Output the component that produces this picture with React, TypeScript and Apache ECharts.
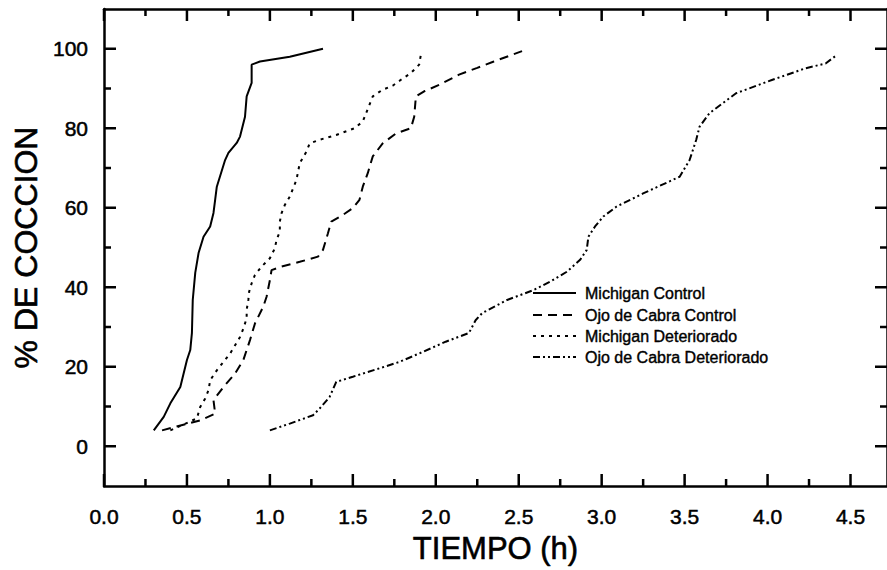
import React, { useEffect, useRef } from "react";
import * as echarts from "echarts";

const seriesNames = [
  "Michigan Control",
  "Ojo de Cabra Control",
  "Michigan Deteriorado",
  "Ojo de Cabra Deteriorado",
];

const michiganControl: [number, number][] = [
  [0.3, 4], [0.36, 7.4], [0.4, 10.8], [0.46, 14.9], [0.5, 21.7], [0.52, 24.2],
  [0.53, 28.5], [0.535, 36.8], [0.55, 43.6], [0.57, 48.6], [0.6, 52.7], [0.64, 55.3],
  [0.66, 58.7], [0.67, 62], [0.68, 65.3], [0.73, 72], [0.75, 73.8], [0.8, 76.3],
  [0.82, 77.9], [0.85, 82.9], [0.86, 88], [0.89, 91.4], [0.89, 96], [0.94, 96.8],
  [1.12, 98], [1.32, 100],
];

const ojoControl: [number, number][] = [
  [0.35, 4], [0.58, 6.5], [0.67, 8.2], [0.66, 11.6], [0.72, 14.9], [0.79, 18.3],
  [0.84, 21.7], [0.88, 26.7], [0.91, 30.9], [0.96, 35.1], [0.98, 37.6], [1.0, 41.8],
  [1.01, 44.3], [1.07, 45.2], [1.18, 46.4], [1.29, 47.7], [1.32, 49.4], [1.35, 53.6],
  [1.37, 56.5], [1.44, 58.2], [1.5, 59.9], [1.54, 62], [1.56, 65.3], [1.59, 68.7],
  [1.62, 72.9], [1.68, 76.2], [1.76, 78.7], [1.85, 80], [1.87, 82.9], [1.88, 88],
  [1.93, 89.3], [2.02, 90.9], [2.14, 93.5], [2.25, 95.2], [2.35, 96.8], [2.52, 99.4],
];

const michiganDet: [number, number][] = [
  [0.4, 4], [0.56, 7], [0.58, 9.9], [0.61, 12], [0.63, 14.1], [0.64, 16.6],
  [0.68, 19.1], [0.72, 21.2], [0.76, 23.3], [0.79, 25.4], [0.82, 27.5], [0.84, 29.6],
  [0.86, 32.2], [0.86, 34.3], [0.87, 36.8], [0.875, 38.9], [0.89, 41], [0.91, 43.1],
  [0.95, 45.2], [1.0, 47.3], [1.03, 49.8], [1.04, 51.9], [1.06, 54], [1.06, 56.5],
  [1.07, 58.6], [1.09, 60.7], [1.12, 62.8], [1.16, 67], [1.18, 71.2], [1.22, 74.1],
  [1.24, 76.2], [1.3, 77.1], [1.4, 78.3], [1.51, 80], [1.56, 81.7], [1.6, 85.9],
  [1.62, 88], [1.68, 89.7], [1.74, 90.7], [1.79, 92.2], [1.85, 93.9], [1.9, 96],
  [1.91, 98.5],
];

const ojoDet: [number, number][] = [
  [1.0, 4], [1.12, 5.7], [1.26, 7.8], [1.3, 9.5], [1.36, 12.4], [1.4, 16.2],
  [1.5, 17.5], [1.66, 19.6], [1.78, 21.2], [1.92, 23.7], [2.06, 26.3], [2.2, 28.5],
  [2.24, 31.7], [2.28, 33.5], [2.43, 36.8], [2.59, 39.3], [2.69, 41.4], [2.79, 43.9],
  [2.87, 46.9], [2.91, 49.4], [2.92, 52.7], [2.96, 55.3], [3.01, 57.8], [3.09, 60.3],
  [3.25, 63.6], [3.47, 67.8], [3.53, 72], [3.57, 77.1], [3.59, 80.4], [3.65, 83.8],
  [3.73, 86.3], [3.81, 88.8], [4.03, 92.2], [4.23, 95.1], [4.35, 96.3], [4.42, 98.5],
];

// tick values (x: hours, y: %)
const xMajorTicks = [0, 0.5, 1, 1.5, 2, 2.5, 3, 3.5, 4, 4.5];
const xMinorTicks = [0.25, 0.75, 1.25, 1.75, 2.25, 2.75, 3.25, 3.75, 4.25];
const yMajorTicks = [0, 20, 40, 60, 80, 100];
const yMinorTicks = [10, 30, 50, 70, 90];

const X_MIN = 0;
const X_MAX = 4.72;
const Y_MIN = -10;
const Y_MAX = 110;

const seriesData = [michiganControl, ojoControl, michiganDet, ojoDet];
const dashPatterns: any[] = ["solid", [9, 6], [3, 5], [7, 3, 2, 3, 2, 3]];

const FONT = "Arial, 'Liberation Sans', Helvetica, sans-serif";

export default function App() {
  const ref = useRef<HTMLDivElement>(null);

  useEffect(() => {
    if (!ref.current) return;
    const chart = echarts.init(ref.current, null, { renderer: "svg" });

    const xFmt = (v: number) =>
      Math.abs(v * 2 - Math.round(v * 2)) < 1e-6 ? v.toFixed(1) : "";
    const yFmt = (v: number) => (Math.abs(v % 20) < 1e-6 ? String(Math.round(v)) : "");

    const mkLine = () => ({ show: true, onZero: false, lineStyle: { color: "#000", width: 2.5 } });

    const legendRows = [293, 315, 336, 357];
    const legendGraphic: any[] = [];
    seriesNames.forEach((name, i) => {
      legendGraphic.push({
        type: "line",
        shape: { x1: 533, y1: legendRows[i], x2: 576, y2: legendRows[i] },
        style: {
          stroke: "#000",
          lineWidth: 2,
          lineDash: dashPatterns[i] === "solid" ? null : dashPatterns[i],
        },
        z: 100,
      });
      legendGraphic.push({
        type: "text",
        x: 585,
        y: legendRows[i],
        style: {
          text: name,
          fill: "#000",
          font: `16px ${FONT}`,
          verticalAlign: "middle",
          align: "left",
          stroke: "#000",
          lineWidth: 0.4,
        },
        z: 100,
      });
    });

    const labelBase = {
      color: "#000",
      fontFamily: FONT,
      fontSize: 21,
      textBorderColor: "#000",
      textBorderWidth: 0.5,
    };

    chart.setOption({
      animation: false,
      backgroundColor: "#fff",
      grid: {
        left: 104,
        right: -1,
        top: 9,
        bottom: 84,
        containLabel: false,
      },
      xAxis: [
        {
          type: "value",
          min: X_MIN,
          max: X_MAX,
          interval: 0.5,
          position: "bottom",
          axisLine: mkLine(),
          axisTick: { show: false },
          splitLine: { show: false },
          name: "TIEMPO (h)",
          nameLocation: "middle",
          nameGap: 47,
          nameTextStyle: { ...labelBase, fontSize: 31, textBorderWidth: 0.6 },
          axisLabel: {
            ...labelBase,
            show: true,
            formatter: xFmt,
            margin: 20,
            showMaxLabel: false,
          },
        },
        {
          type: "value",
          min: X_MIN,
          max: X_MAX,
          interval: 0.5,
          position: "top",
          axisLine: mkLine(),
          axisTick: { show: false },
          splitLine: { show: false },
          axisLabel: { show: false },
        },
      ],
      yAxis: [
        {
          type: "value",
          min: Y_MIN,
          max: Y_MAX,
          splitNumber: 6,
          position: "left",
          axisLine: mkLine(),
          axisTick: { show: false },
          splitLine: { show: false },
          name: "% DE COCCION",
          nameLocation: "middle",
          nameGap: 62,
          nameRotate: 90,
          nameTextStyle: { ...labelBase, fontSize: 32, textBorderWidth: 0.6 },
          axisLabel: {
            ...labelBase,
            show: true,
            formatter: yFmt,
            margin: 16,
          },
        },
        {
          type: "value",
          min: Y_MIN,
          max: Y_MAX,
          splitNumber: 6,
          position: "right",
          axisLine: mkLine(),
          axisTick: { show: false },
          splitLine: { show: false },
          axisLabel: { show: false },
        },
      ],
      series: seriesData.map((d, i) => ({
        name: seriesNames[i],
        type: "line",
        data: d,
        xAxisIndex: 0,
        yAxisIndex: 0,
        symbol: "none",
        smooth: false,
        lineStyle: { color: "#000", width: 2, type: dashPatterns[i], cap: "butt" },
      })),
      graphic: legendGraphic,
    });

    // tick marks placed with the chart's own axis scales
    const toPx = (x: number, y: number): number[] => {
      let p = chart.convertToPixel({ gridIndex: 0 }, [x, y]) as any;
      if (!p || !isFinite(p[0]) || !isFinite(p[1])) {
        p = chart.convertToPixel({ seriesIndex: 0 }, [x, y]) as any;
      }
      return p;
    };
    const tickStyle = { stroke: "#000", lineWidth: 2.5 };
    const tickGraphic: any[] = [];
    const addX = (ticks: number[], len: number) =>
      ticks.forEach((t) => {
        const b = toPx(t, Y_MIN);
        const top = toPx(t, Y_MAX);
        tickGraphic.push({
          type: "line",
          shape: { x1: b[0], y1: b[1], x2: b[0], y2: b[1] - len },
          style: tickStyle,
          z: 50,
        });
        tickGraphic.push({
          type: "line",
          shape: { x1: top[0], y1: top[1], x2: top[0], y2: top[1] + len },
          style: tickStyle,
          z: 50,
        });
      });
    const addY = (ticks: number[], len: number) =>
      ticks.forEach((t) => {
        const l = toPx(X_MIN, t);
        const r = toPx(X_MAX, t);
        tickGraphic.push({
          type: "line",
          shape: { x1: l[0], y1: l[1], x2: l[0] + len, y2: l[1] },
          style: tickStyle,
          z: 50,
        });
        tickGraphic.push({
          type: "line",
          shape: { x1: r[0], y1: r[1], x2: r[0] - len, y2: r[1] },
          style: tickStyle,
          z: 50,
        });
      });
    addX(xMajorTicks, 12);
    addX(xMinorTicks, 7);
    addY(yMajorTicks, 12);
    addY(yMinorTicks, 7);

    chart.setOption({ graphic: [...legendGraphic, ...tickGraphic] });

    return () => chart.dispose();
  }, []);

  return (
    <div
      ref={ref}
      style={{ position: "absolute", left: 0, top: 0, width: 887, height: 570 }}
    />
  );
}
